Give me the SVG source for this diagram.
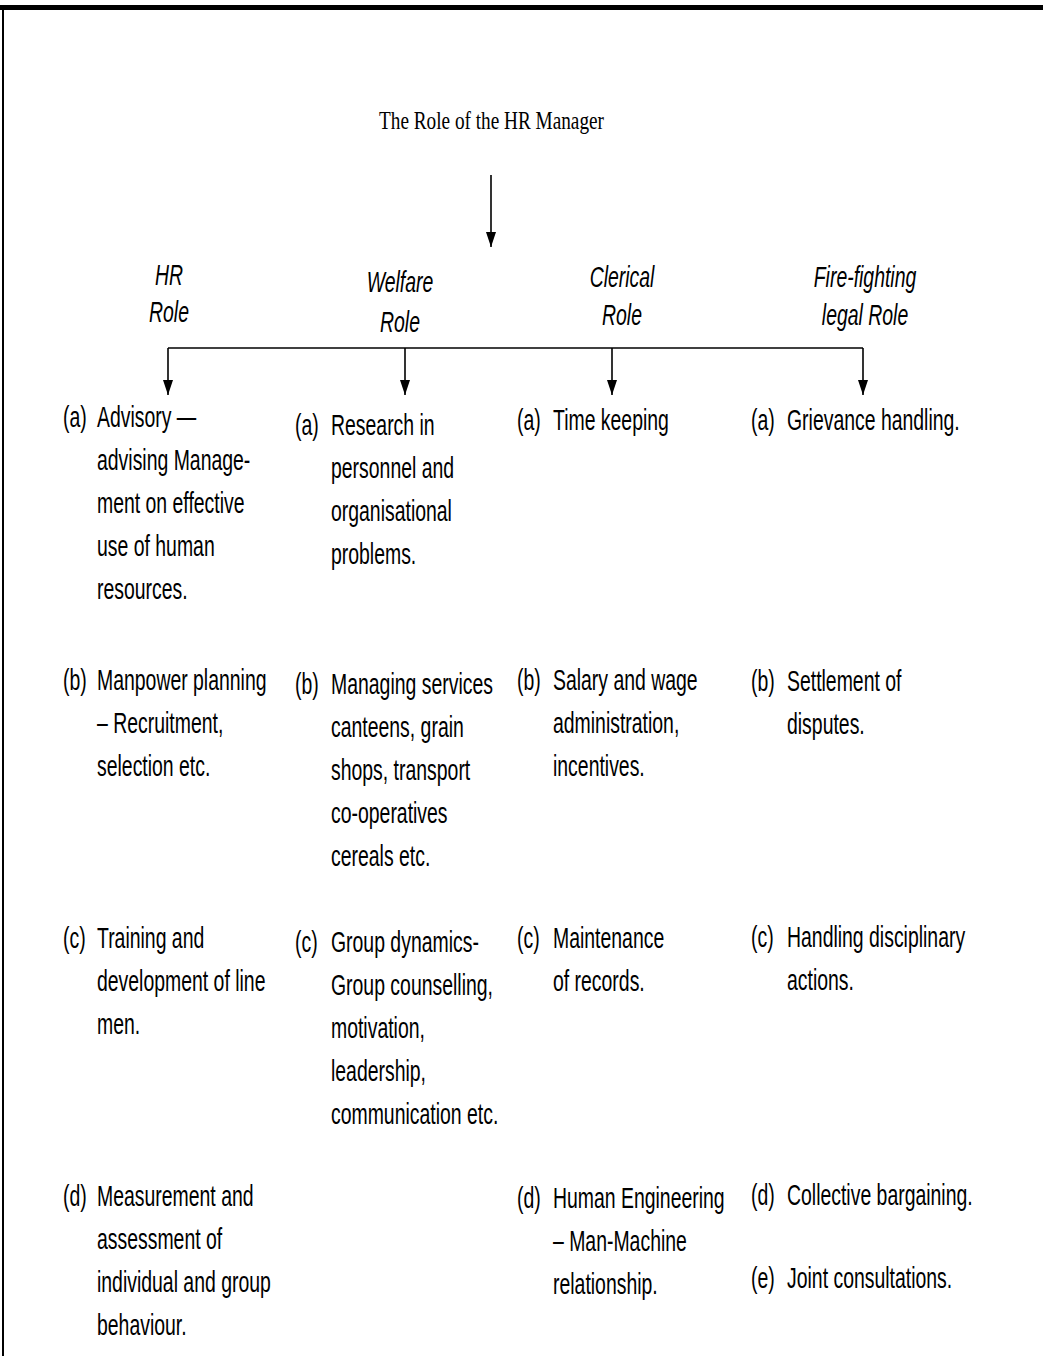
<svg xmlns="http://www.w3.org/2000/svg" width="1043" height="1356" viewBox="0 0 1043 1356">
<style>
.t{font-family:"Liberation Sans",Arial,sans-serif;font-size:29px;fill:#000}
.h{font-family:"Liberation Sans",Arial,sans-serif;font-size:29px;font-style:italic;fill:#000;text-anchor:middle}
.ttl{font-family:"Liberation Serif","Times New Roman",serif;font-size:25px;fill:#000;text-anchor:middle}
.c{stroke:#000;stroke-width:1.6;fill:none}
</style>
<defs>
<marker id="ah" viewBox="0 0 15 10" refX="15" refY="5" markerWidth="15" markerHeight="10" markerUnits="userSpaceOnUse" orient="auto">
<path d="M0,0 L15,5 L0,10 z" fill="#000"/>
</marker>
</defs>
<rect width="1043" height="1356" fill="#fff"/>
<g id="frame">
<rect x="0" y="5" width="1043" height="5" fill="#000"/>
<line x1="3" y1="8" x2="3" y2="1356" stroke="#000" stroke-width="2"/>
</g>
<g id="title"><text class="ttl" transform="translate(491.5,129) scale(0.77,1)">The Role of the HR Manager</text></g>
<g id="hdr-hr"><text class="h" transform="translate(169,285) scale(0.67,1)">HR</text><text class="h" transform="translate(169,322) scale(0.67,1)">Role</text></g>
<g id="hdr-welfare"><text class="h" transform="translate(400,292) scale(0.67,1)">Welfare</text><text class="h" transform="translate(400,332) scale(0.67,1)">Role</text></g>
<g id="hdr-clerical"><text class="h" transform="translate(622,287) scale(0.67,1)">Clerical</text><text class="h" transform="translate(622,325) scale(0.67,1)">Role</text></g>
<g id="hdr-fire"><text class="h" transform="translate(865,287) scale(0.67,1)">Fire-fighting</text><text class="h" transform="translate(865,325) scale(0.67,1)">legal Role</text></g>
<g id="connectors">
<line class="c" x1="491" y1="175" x2="491" y2="247" marker-end="url(#ah)"/>
<line class="c" x1="168" y1="348" x2="863" y2="348"/>
<line class="c" x1="168" y1="348" x2="168" y2="395" marker-end="url(#ah)"/>
<line class="c" x1="405" y1="348" x2="405" y2="395" marker-end="url(#ah)"/>
<line class="c" x1="612" y1="348" x2="612" y2="395" marker-end="url(#ah)"/>
<line class="c" x1="863" y1="348" x2="863" y2="395" marker-end="url(#ah)"/>
</g>
<g id="hr-a"><text class="t" transform="translate(63,427) scale(0.67,1)">(a)</text><text class="t" transform="translate(97,427) scale(0.67,1)"><tspan x="0" y="0">Advisory —</tspan><tspan x="0" dy="43">advising Manage-</tspan><tspan x="0" dy="43">ment on effective</tspan><tspan x="0" dy="43">use of human</tspan><tspan x="0" dy="43">resources.</tspan></text></g>
<g id="hr-b"><text class="t" transform="translate(63,690) scale(0.67,1)">(b)</text><text class="t" transform="translate(97,690) scale(0.67,1)"><tspan x="0" y="0">Manpower planning</tspan><tspan x="0" dy="43">– Recruitment,</tspan><tspan x="0" dy="43">selection etc.</tspan></text></g>
<g id="hr-c"><text class="t" transform="translate(63,948) scale(0.67,1)">(c)</text><text class="t" transform="translate(97,948) scale(0.67,1)"><tspan x="0" y="0">Training and</tspan><tspan x="0" dy="43">development of line</tspan><tspan x="0" dy="43">men.</tspan></text></g>
<g id="hr-d"><text class="t" transform="translate(63,1206) scale(0.67,1)">(d)</text><text class="t" transform="translate(97,1206) scale(0.67,1)"><tspan x="0" y="0">Measurement and</tspan><tspan x="0" dy="43">assessment of</tspan><tspan x="0" dy="43">individual and group</tspan><tspan x="0" dy="43">behaviour.</tspan></text></g>
<g id="welfare-a"><text class="t" transform="translate(295,435) scale(0.67,1)">(a)</text><text class="t" transform="translate(331,435) scale(0.67,1)"><tspan x="0" y="0">Research in</tspan><tspan x="0" dy="43">personnel and</tspan><tspan x="0" dy="43">organisational</tspan><tspan x="0" dy="43">problems.</tspan></text></g>
<g id="welfare-b"><text class="t" transform="translate(295,694) scale(0.67,1)">(b)</text><text class="t" transform="translate(331,694) scale(0.67,1)"><tspan x="0" y="0">Managing services</tspan><tspan x="0" dy="43">canteens, grain</tspan><tspan x="0" dy="43">shops, transport</tspan><tspan x="0" dy="43">co-operatives</tspan><tspan x="0" dy="43">cereals etc.</tspan></text></g>
<g id="welfare-c"><text class="t" transform="translate(295,952) scale(0.67,1)">(c)</text><text class="t" transform="translate(331,952) scale(0.67,1)"><tspan x="0" y="0">Group dynamics-</tspan><tspan x="0" dy="43">Group counselling,</tspan><tspan x="0" dy="43">motivation,</tspan><tspan x="0" dy="43">leadership,</tspan><tspan x="0" dy="43">communication etc.</tspan></text></g>
<g id="clerical-a"><text class="t" transform="translate(517,430) scale(0.67,1)">(a)</text><text class="t" transform="translate(553,430) scale(0.67,1)">Time keeping</text></g>
<g id="clerical-b"><text class="t" transform="translate(517,690) scale(0.67,1)">(b)</text><text class="t" transform="translate(553,690) scale(0.67,1)"><tspan x="0" y="0">Salary and wage</tspan><tspan x="0" dy="43">administration,</tspan><tspan x="0" dy="43">incentives.</tspan></text></g>
<g id="clerical-c"><text class="t" transform="translate(517,948) scale(0.67,1)">(c)</text><text class="t" transform="translate(553,948) scale(0.67,1)"><tspan x="0" y="0">Maintenance</tspan><tspan x="0" dy="43">of records.</tspan></text></g>
<g id="clerical-d"><text class="t" transform="translate(517,1208) scale(0.67,1)">(d)</text><text class="t" transform="translate(553,1208) scale(0.67,1)"><tspan x="0" y="0">Human Engineering</tspan><tspan x="0" dy="43">– Man-Machine</tspan><tspan x="0" dy="43">relationship.</tspan></text></g>
<g id="fire-a"><text class="t" transform="translate(751,430) scale(0.67,1)">(a)</text><text class="t" transform="translate(787,430) scale(0.67,1)">Grievance handling.</text></g>
<g id="fire-b"><text class="t" transform="translate(751,691) scale(0.67,1)">(b)</text><text class="t" transform="translate(787,691) scale(0.67,1)"><tspan x="0" y="0">Settlement of</tspan><tspan x="0" dy="43">disputes.</tspan></text></g>
<g id="fire-c"><text class="t" transform="translate(751,947) scale(0.67,1)">(c)</text><text class="t" transform="translate(787,947) scale(0.67,1)"><tspan x="0" y="0">Handling disciplinary</tspan><tspan x="0" dy="43">actions.</tspan></text></g>
<g id="fire-d"><text class="t" transform="translate(751,1205) scale(0.67,1)">(d)</text><text class="t" transform="translate(787,1205) scale(0.67,1)">Collective bargaining.</text></g>
<g id="fire-e"><text class="t" transform="translate(751,1288) scale(0.67,1)">(e)</text><text class="t" transform="translate(787,1288) scale(0.67,1)">Joint consultations.</text></g>
</svg>
